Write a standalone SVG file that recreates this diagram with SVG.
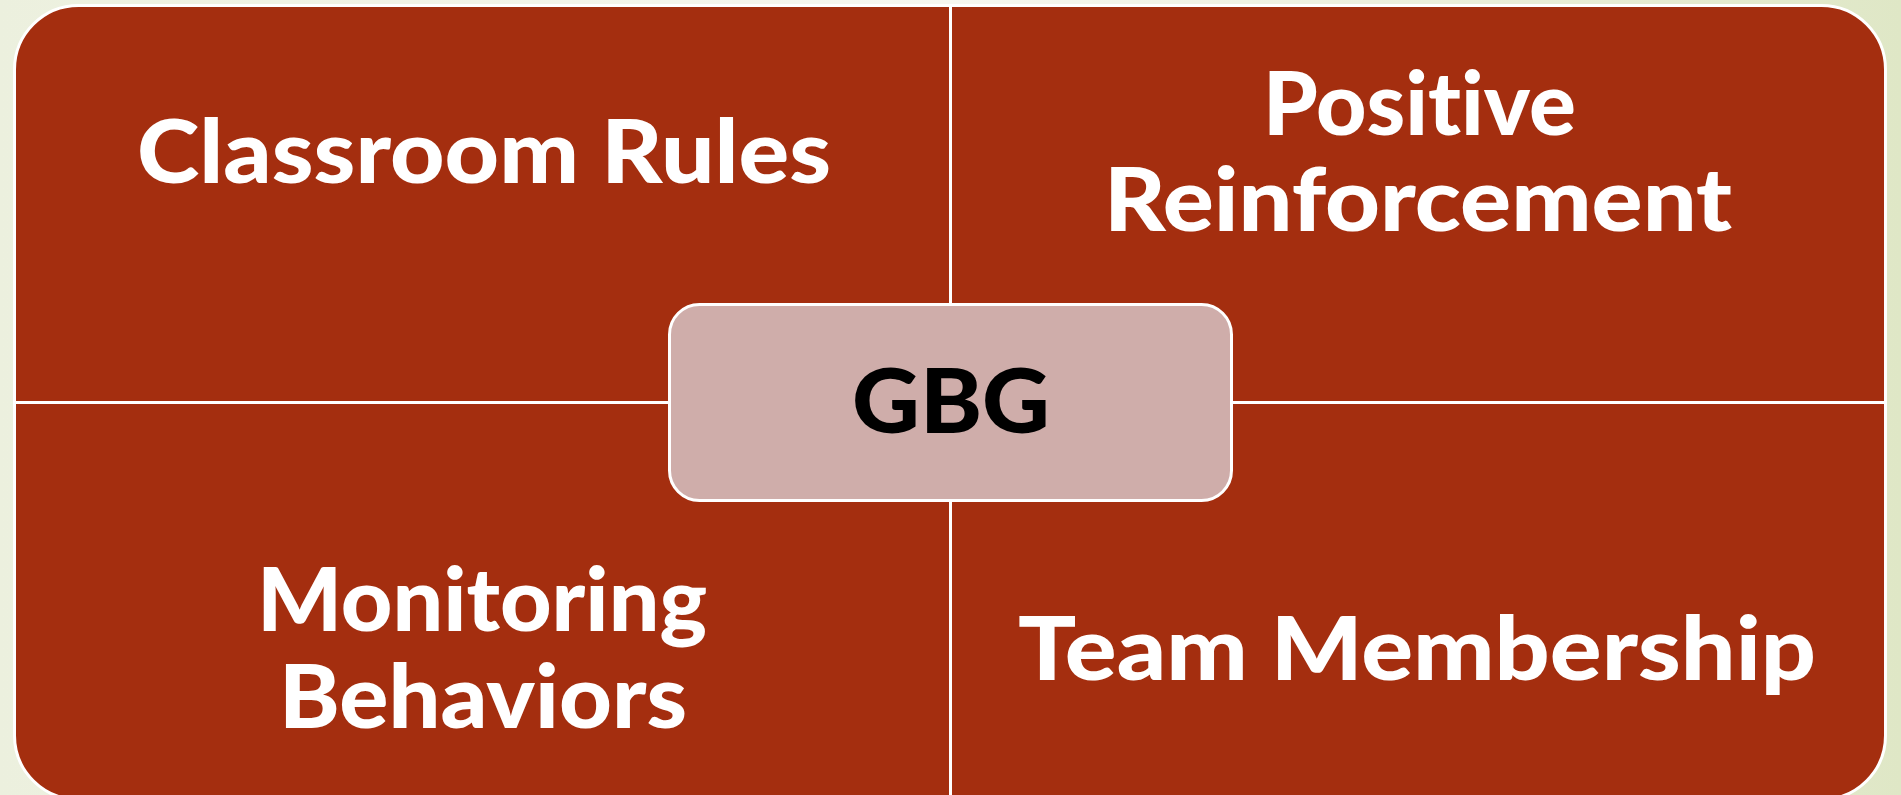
<svg xmlns="http://www.w3.org/2000/svg" width="1901" height="795" viewBox="0 0 1901 795">
  <defs>
    <linearGradient id="bg" x1="0" y1="0" x2="1" y2="0">
      <stop offset="0" stop-color="#ecf0de"/>
      <stop offset="0.5" stop-color="#f6f7f0"/>
      <stop offset="1" stop-color="#dfe7c6"/>
    </linearGradient>
    <style>
      .quad { fill: #a42e0f; stroke: #ffffff; stroke-width: 3; }
      .hub { fill: #cfadaa; stroke: #ffffff; stroke-width: 3; }
      text { font-family: "Lato", "Liberation Sans", sans-serif; font-weight: 900;
             font-variant-ligatures: none; font-feature-settings: "liga" 0, "clig" 0; }
      .label { font-size: 87px; fill: #ffffff; }
      .hub-label { font-size: 90px; fill: #000000; }
    </style>
  </defs>

  <rect x="0" y="0" width="1901" height="795" fill="url(#bg)"/>

  <!-- four quadrants of the matrix -->
  <g id="node-classroom-rules">
    <path class="quad" d="M14.5,402.5 V69.5 A64,64 0 0 1 78.5,5.5 H950.5 V402.5 Z"/>
    <text class="label" x="137" y="183" textLength="694" lengthAdjust="spacingAndGlyphs">Classroom Rules</text>
  </g>

  <g id="node-positive-reinforcement">
    <path class="quad" d="M950.5,5.5 H1821.5 A64,64 0 0 1 1885.5,69.5 V402.5 H950.5 Z"/>
    <text class="label" x="1263" y="135" textLength="313" lengthAdjust="spacingAndGlyphs">Positive</text>
    <text class="label" x="1104" y="231" textLength="628" lengthAdjust="spacingAndGlyphs">Reinforcement</text>
  </g>

  <g id="node-monitoring-behaviors">
    <path class="quad" d="M14.5,402.5 H950.5 V799.5 H78.5 A64,64 0 0 1 14.5,735.5 Z"/>
    <text class="label" x="257" y="631" textLength="450" lengthAdjust="spacingAndGlyphs">Monitoring</text>
    <text class="label" x="279" y="728" textLength="408" lengthAdjust="spacingAndGlyphs">Behaviors</text>
  </g>

  <g id="node-team-membership">
    <path class="quad" d="M950.5,402.5 H1885.5 V735.5 A64,64 0 0 1 1821.5,799.5 H950.5 Z"/>
    <text class="label" x="1018" y="680" textLength="798" lengthAdjust="spacingAndGlyphs">Team Membership</text>
  </g>

  <!-- centre hub -->
  <g id="node-gbg">
    <rect class="hub" x="669.5" y="304.5" width="562" height="196" rx="30" ry="30"/>
    <text class="hub-label" x="852" y="433" textLength="198" lengthAdjust="spacingAndGlyphs">GBG</text>
  </g>

  <g id="connectors"/>
</svg>
